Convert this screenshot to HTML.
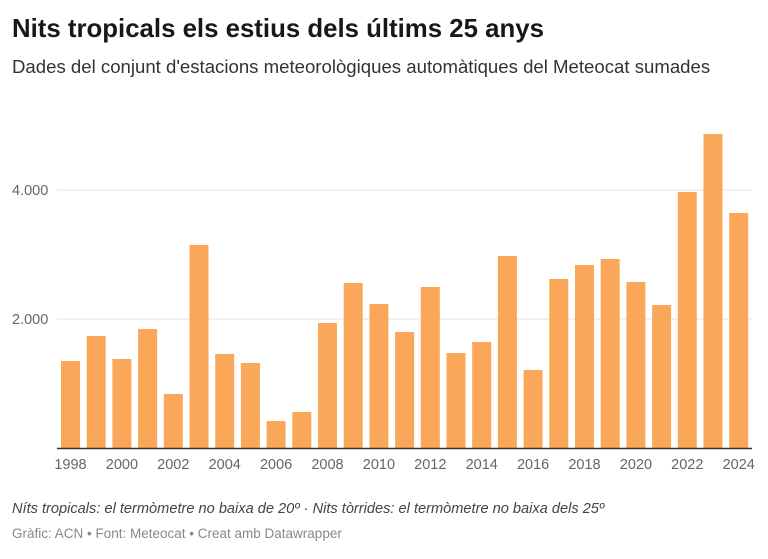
<!DOCTYPE html>
<html><head><meta charset="utf-8"><style>
body{margin:0;width:768px;height:554px;background:#fff;font-family:"Liberation Sans",sans-serif;overflow:hidden}
</style></head><body>
<svg width="768" height="554" xmlns="http://www.w3.org/2000/svg" font-family="Liberation Sans, sans-serif">
<text x="12" y="37" font-size="25.8" font-weight="bold" fill="#181818">Nits tropicals els estius dels últims 25 anys</text>
<text x="12" y="73" font-size="18.6" fill="#333">Dades del conjunt d'estacions meteorològiques automàtiques del Meteocat sumades</text>
<line x1="57" y1="190" x2="752" y2="190" stroke="#e3e3e3"/>
<line x1="57" y1="319" x2="752" y2="319" stroke="#e3e3e3"/>
<text x="12" y="195" font-size="14.5" fill="#666">4.000</text>
<text x="12" y="324" font-size="14.5" fill="#666">2.000</text>
<g fill="#fba75a" id="b"></g>
<line x1="57" y1="448.5" x2="752" y2="448.5" stroke="#333" stroke-width="1.5"/>
<g font-size="14.5" fill="#666" text-anchor="middle" id="t"></g>
<text x="12" y="513" font-size="14.6" font-style="italic" fill="#444">Níts tropicals: el termòmetre no baixa de 20º · Nits tòrrides: el termòmetre no baixa dels 25º</text>
<text x="12" y="538" font-size="13.5" fill="#888">Gràfic: ACN • Font: Meteocat • Creat amb Datawrapper</text>
</svg>
<script>
var tops=[361,336,359,329,394,245,354,363,421,412,323,283,304,332,287,353,342,256,370,279,265,259,282,305,192,134,213];
var b=document.getElementById('b'),t=document.getElementById('t'),ns="http://www.w3.org/2000/svg";
tops.forEach(function(y,i){var x=61+i*25.7;var r=document.createElementNS(ns,'rect');r.setAttribute('x',x);r.setAttribute('y',y);r.setAttribute('width',19);r.setAttribute('height',448-y);b.appendChild(r);
if(i%2==0){var s=document.createElementNS(ns,'text');s.setAttribute('x',x+9.5);s.setAttribute('y',469);s.textContent=1998+i;t.appendChild(s);}});
</script>
</body></html>
